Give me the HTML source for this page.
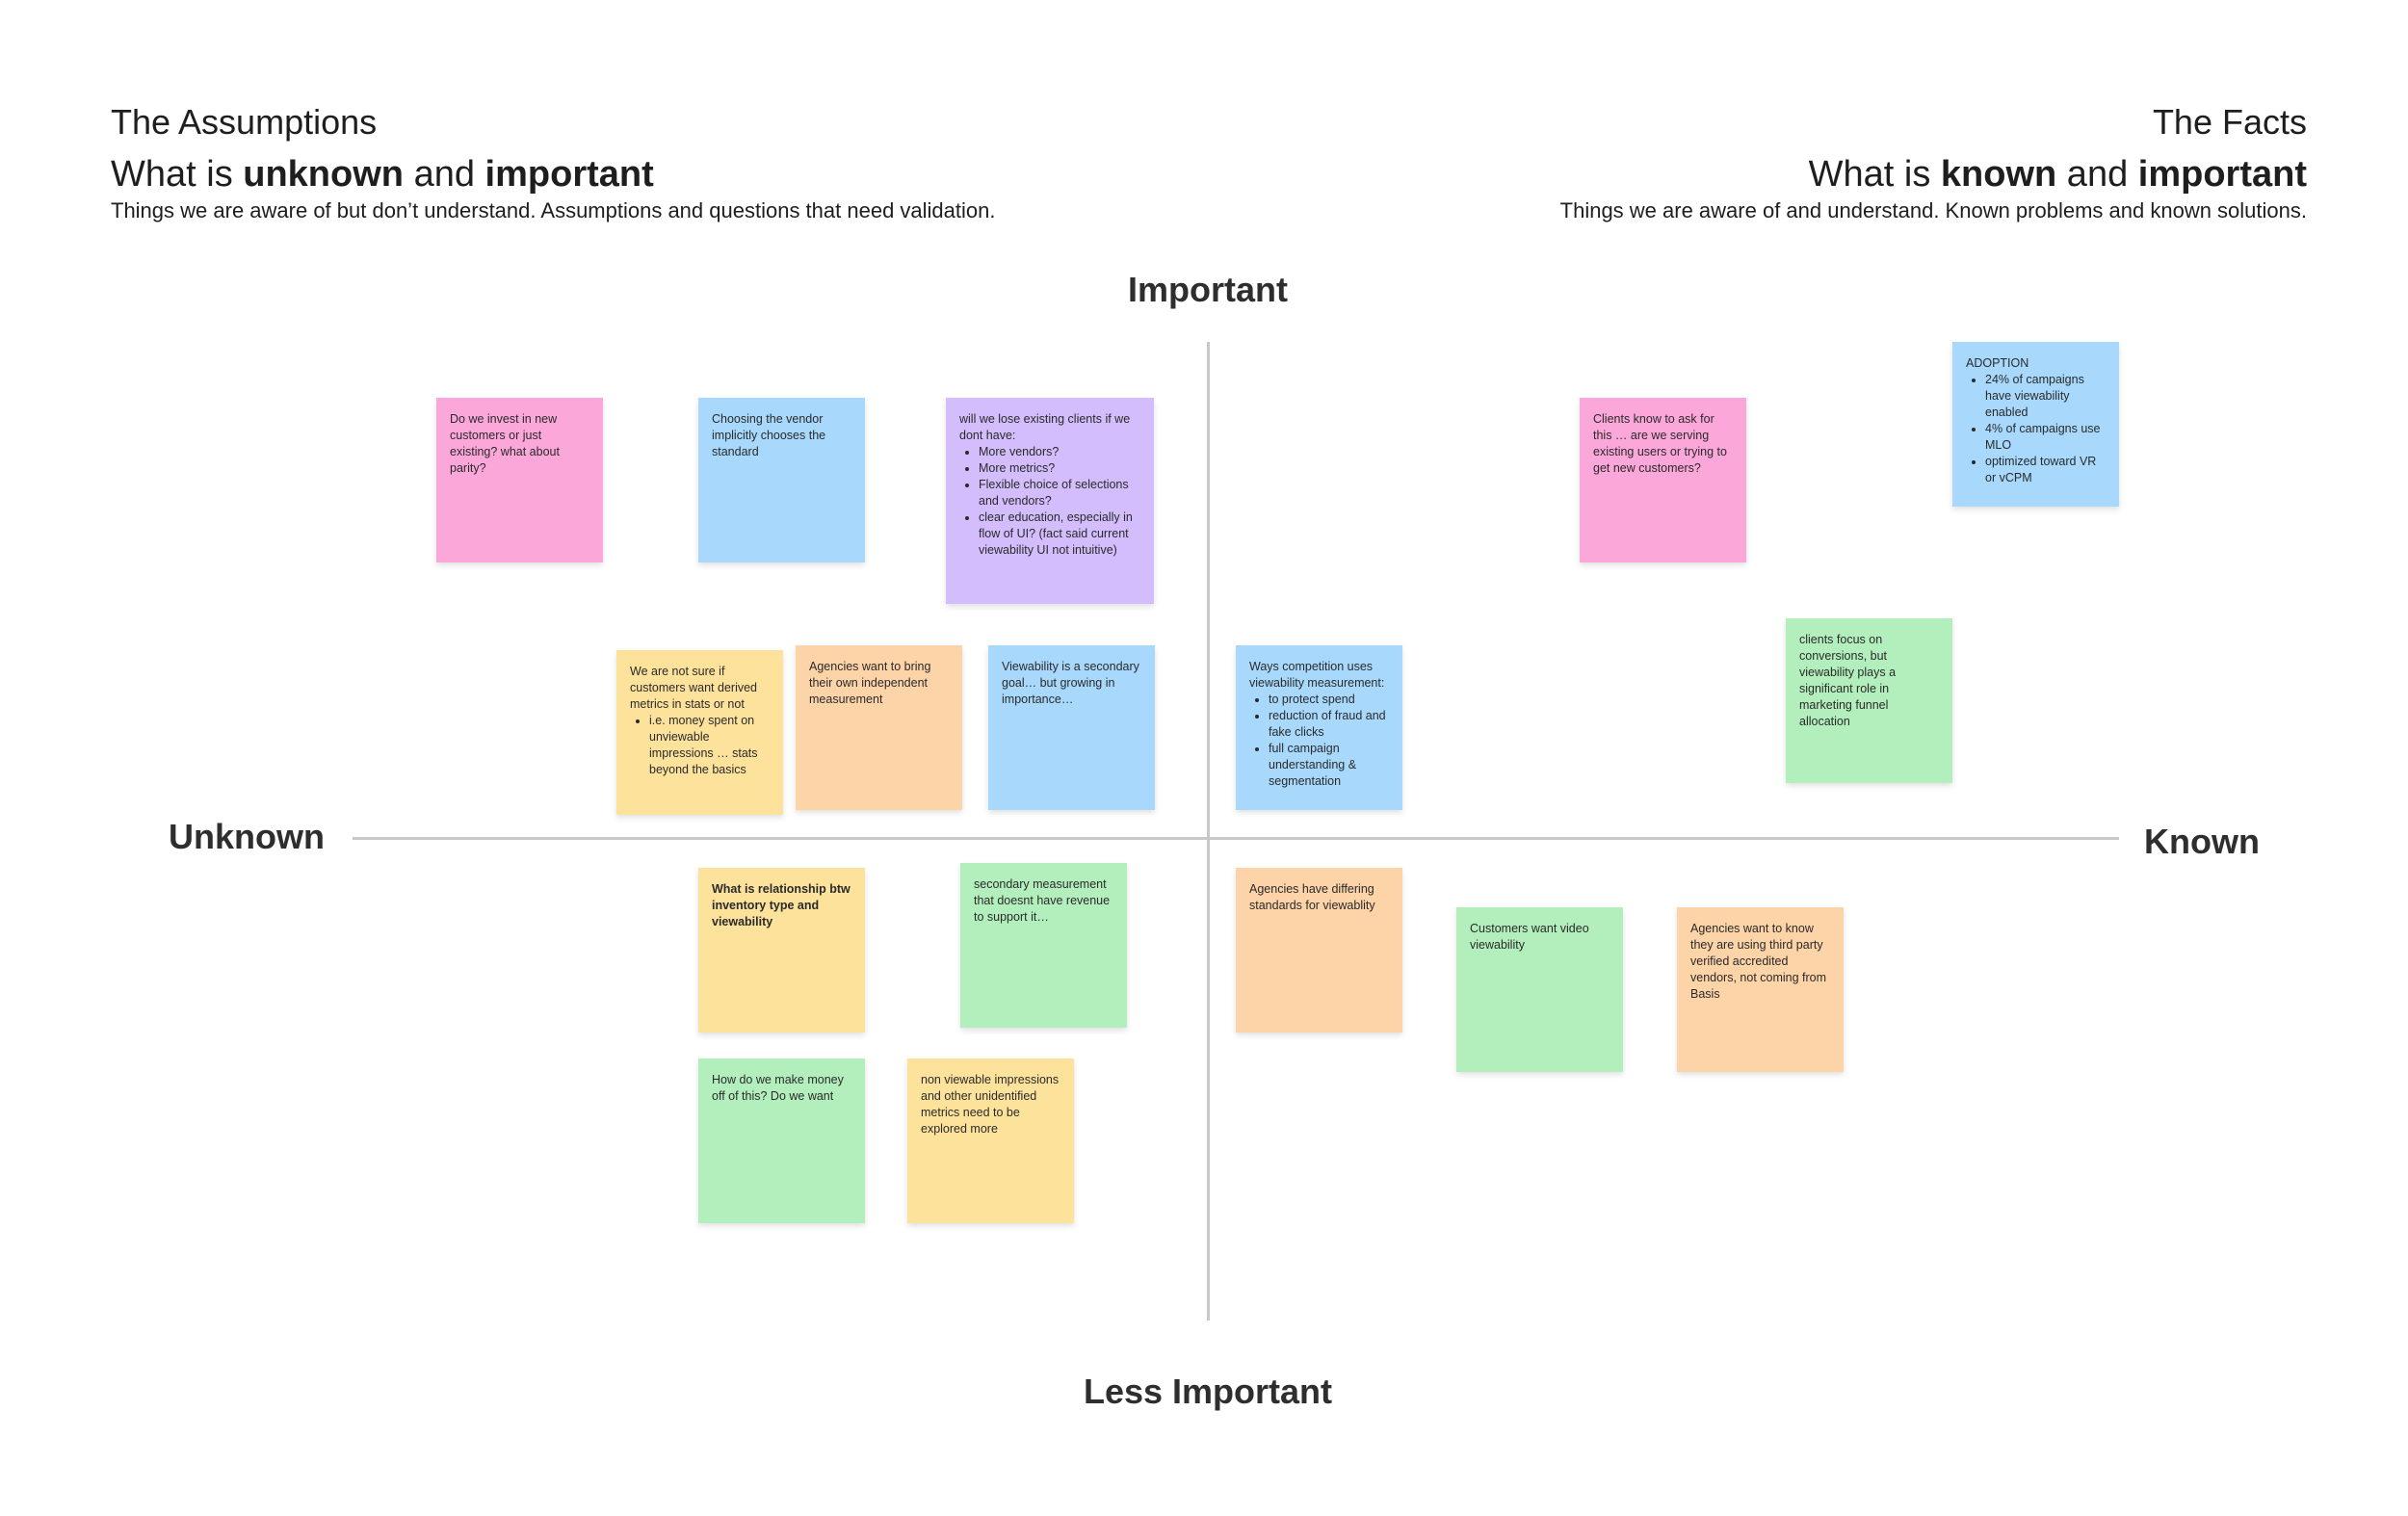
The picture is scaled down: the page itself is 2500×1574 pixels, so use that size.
<!DOCTYPE html>
<html><head><meta charset="utf-8"><style>
*{margin:0;padding:0;box-sizing:border-box}
body{width:2500px;height:1574px;background:#fff;position:relative;overflow:hidden;font-family:"Liberation Sans",sans-serif;color:#1e1e1e}
.t{position:absolute;white-space:nowrap}
.s{position:absolute;width:173px;height:171px;padding:14px 14px;font-size:12.5px;line-height:17px;color:#2a2a2a;box-shadow:0 3px 6px rgba(0,0,0,.12)}
.s ul{margin:0;padding-left:20px}
.pk{background:#fca7da}.bl{background:#a8d9fd}.pu{background:#d3bdfc}.ye{background:#fde29b}.or{background:#fdd3a8}.gr{background:#b3efbd}
.ax{font-weight:bold;font-size:36px;color:#2e2e2e;transform:translate(-50%,-50%)}
</style></head><body>
<div class="t" style="left:115px;top:106px;font-size:36px">The Assumptions</div>
<div class="t" style="left:115px;top:160px;font-size:38px">What is <b>unknown</b> and <b>important</b></div>
<div class="t" style="left:115px;top:206px;font-size:22px">Things we are aware of but don’t understand. Assumptions and questions that need validation.</div>
<div class="t" style="right:105px;top:106px;font-size:36px">The Facts</div>
<div class="t" style="right:105px;top:160px;font-size:38px">What is <b>known</b> and <b>important</b></div>
<div class="t" style="right:105px;top:206px;font-size:22px">Things we are aware of and understand. Known problems and known solutions.</div>

<div style="position:absolute;left:1253px;top:355px;width:3px;height:1016px;background:#c8c8c8"></div>
<div style="position:absolute;left:366px;top:869px;width:1834px;height:3px;background:#c8c8c8"></div>
<div class="t ax" style="left:1254px;top:301px">Important</div>
<div class="t ax" style="left:1254px;top:1445px">Less Important</div>
<div class="t ax" style="left:256px;top:869px">Unknown</div>
<div class="t ax" style="left:2286px;top:874px">Known</div>

<div class="s pk" style="left:453px;top:413px">Do we invest in new customers or just existing? what about parity?</div>
<div class="s bl" style="left:725px;top:413px">Choosing the vendor implicitly chooses the standard</div>
<div class="s pu" style="left:982px;top:413px;width:216px;height:214px">will we lose existing clients if we dont have:<ul><li>More vendors?</li><li>More metrics?</li><li>Flexible choice of selections and vendors?</li><li>clear education, especially in flow of UI? (fact said current viewability UI not intuitive)</li></ul></div>
<div class="s ye" style="left:640px;top:675px">We are not sure if customers want derived metrics in stats or not<ul><li>i.e. money spent on unviewable impressions … stats beyond the basics</li></ul></div>
<div class="s or" style="left:826px;top:670px">Agencies want to bring their own independent measurement</div>
<div class="s bl" style="left:1026px;top:670px">Viewability is a secondary goal… but growing in importance…</div>
<div class="s bl" style="left:1283px;top:670px">Ways competition uses viewability measurement:<ul><li>to protect spend</li><li>reduction of fraud and fake clicks</li><li>full campaign understanding &amp; segmentation</li></ul></div>
<div class="s ye" style="left:725px;top:901px;font-weight:bold">What is relationship btw inventory type and viewability</div>
<div class="s gr" style="left:997px;top:896px">secondary measurement that doesnt have revenue to support it…</div>
<div class="s gr" style="left:725px;top:1099px">How do we make money off of this? Do we want</div>
<div class="s ye" style="left:942px;top:1099px">non viewable impressions and other unidentified metrics need to be explored more</div>
<div class="s or" style="left:1283px;top:901px">Agencies have differing standards for viewablity</div>
<div class="s gr" style="left:1512px;top:942px">Customers want video viewability</div>
<div class="s or" style="left:1741px;top:942px">Agencies want to know they are using third party verified accredited vendors, not coming from Basis</div>
<div class="s pk" style="left:1640px;top:413px">Clients know to ask for this … are we serving existing users or trying to get new customers?</div>
<div class="s bl" style="left:2027px;top:355px">ADOPTION<ul><li>24% of campaigns have viewability enabled</li><li>4% of campaigns use MLO</li><li>optimized toward VR or vCPM</li></ul></div>
<div class="s gr" style="left:1854px;top:642px">clients focus on conversions, but viewability plays a significant role in marketing funnel allocation</div>
</body></html>
